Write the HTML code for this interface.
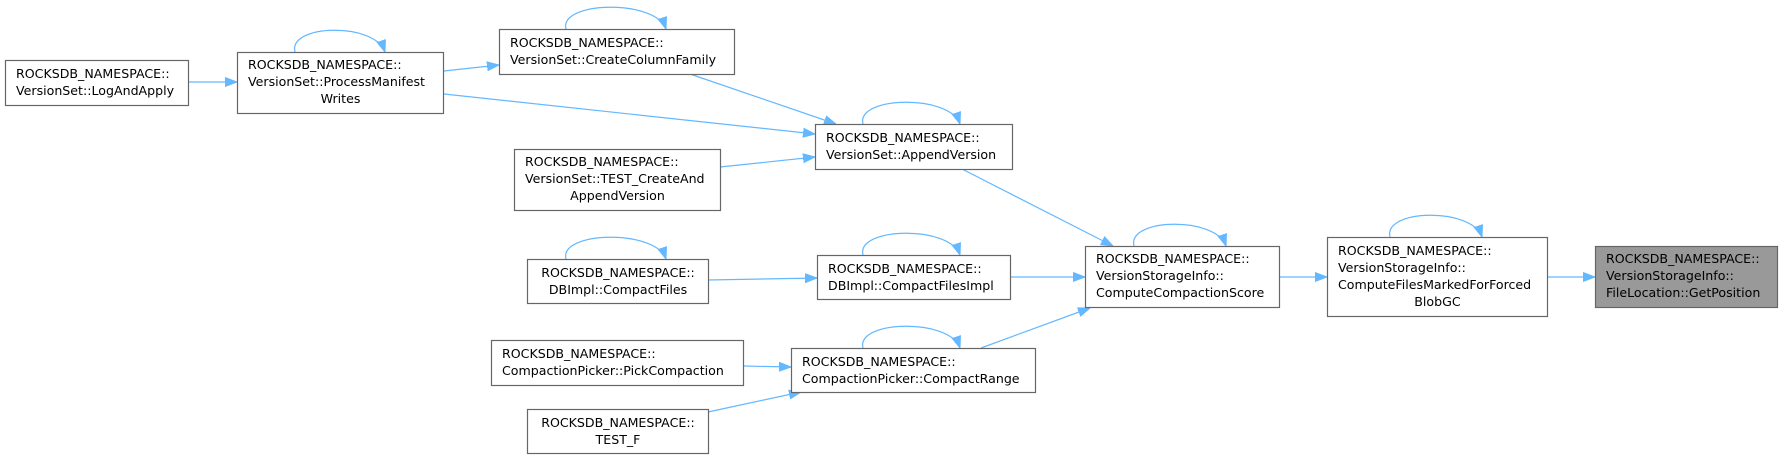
<!DOCTYPE html>
<html><head><meta charset="utf-8"><style>
html,body{margin:0;padding:0;background:#fff;}
svg{display:block;}
text{font-family:"DejaVu Sans","Liberation Sans",sans-serif;font-size:12.6px;fill:#000;}
.b{fill:#fff;stroke:#666;stroke-width:1.2;}
.e{fill:none;stroke:#63b8ff;stroke-width:1.2;marker-end:url(#a);}
</style></head><body>
<svg width="1782" height="459" viewBox="0 0 1782 459" xmlns="http://www.w3.org/2000/svg">
<defs><marker id="a" markerWidth="12" markerHeight="10" refX="12" refY="5" orient="auto" markerUnits="userSpaceOnUse"><path d="M0,0.5 L12,5 L0,9.5 Z" fill="#63b8ff" stroke="#63b8ff"/></marker></defs>

<!-- edges -->
<path class="e" d="M189,82 L237,82"/>
<path class="e" d="M444,71 L499,65"/>
<path class="e" d="M444,94 L815,134"/>
<path class="e" d="M690,74 L836,124"/>
<path class="e" d="M720,167 L815,157"/>
<path class="e" d="M708,280 L817,278"/>
<path class="e" d="M962,169 L1113,246"/>
<path class="e" d="M1010,277 L1085,277"/>
<path class="e" d="M981,348 L1090,308"/>
<path class="e" d="M743,366 L791,367"/>
<path class="e" d="M708,412 L801,392"/>
<path class="e" d="M1279,277 L1327,277"/>
<path class="e" d="M1547,277 L1595,277"/>

<!-- self loops -->
<path class="e" d="M295,52 C288,24 375,22 385,52"/>
<path class="e" d="M566,29 C559,1 656,-1 666,29"/>
<path class="e" d="M566,259 C559,231 656,229 666,259"/>
<path class="e" d="M863,124 C856,96 950,94 960,124"/>
<path class="e" d="M863,255 C856,227 950,225 960,255"/>
<path class="e" d="M863,348 C856,320 950,318 960,348"/>
<path class="e" d="M1134,246 C1127,218 1216,216 1226,246"/>
<path class="e" d="M1390,237 C1383,209 1472,207 1482,237"/>

<!-- nodes -->
<rect class="b" x="5.5" y="60.5" width="183" height="45"/>
<text x="16" y="78">ROCKSDB_NAMESPACE::</text>
<text x="16" y="95">VersionSet::LogAndApply</text>

<rect class="b" x="237.5" y="52.5" width="206" height="61"/>
<text x="248" y="69">ROCKSDB_NAMESPACE::</text>
<text x="248" y="86">VersionSet::ProcessManifest</text>
<text x="340.5" y="103" text-anchor="middle">Writes</text>

<rect class="b" x="499.5" y="29.5" width="235" height="45"/>
<text x="510" y="47">ROCKSDB_NAMESPACE::</text>
<text x="510" y="64">VersionSet::CreateColumnFamily</text>

<rect class="b" x="514.5" y="149.5" width="206" height="61"/>
<text x="525" y="166">ROCKSDB_NAMESPACE::</text>
<text x="525" y="183">VersionSet::TEST_CreateAnd</text>
<text x="617.5" y="200" text-anchor="middle">AppendVersion</text>

<rect class="b" x="527.5" y="259.5" width="181" height="44"/>
<text x="618" y="277" text-anchor="middle">ROCKSDB_NAMESPACE::</text>
<text x="618" y="294" text-anchor="middle">DBImpl::CompactFiles</text>

<rect class="b" x="491.5" y="340.5" width="252" height="45"/>
<text x="502" y="358">ROCKSDB_NAMESPACE::</text>
<text x="502" y="375">CompactionPicker::PickCompaction</text>

<rect class="b" x="527.5" y="409.5" width="181" height="44"/>
<text x="618" y="427" text-anchor="middle">ROCKSDB_NAMESPACE::</text>
<text x="618" y="444" text-anchor="middle">TEST_F</text>

<rect class="b" x="815.5" y="124.5" width="197" height="45"/>
<text x="826" y="142">ROCKSDB_NAMESPACE::</text>
<text x="826" y="159">VersionSet::AppendVersion</text>

<rect class="b" x="817.5" y="255.5" width="193" height="44"/>
<text x="828" y="273">ROCKSDB_NAMESPACE::</text>
<text x="828" y="290">DBImpl::CompactFilesImpl</text>

<rect class="b" x="791.5" y="348.5" width="244" height="44"/>
<text x="802" y="366">ROCKSDB_NAMESPACE::</text>
<text x="802" y="383">CompactionPicker::CompactRange</text>

<rect class="b" x="1085.5" y="246.5" width="194" height="61"/>
<text x="1096" y="263">ROCKSDB_NAMESPACE::</text>
<text x="1096" y="280">VersionStorageInfo::</text>
<text x="1096" y="297">ComputeCompactionScore</text>

<rect class="b" x="1327.5" y="237.5" width="220" height="79"/>
<text x="1338" y="255">ROCKSDB_NAMESPACE::</text>
<text x="1338" y="272">VersionStorageInfo::</text>
<text x="1338" y="289">ComputeFilesMarkedForForced</text>
<text x="1437.5" y="306" text-anchor="middle">BlobGC</text>

<rect x="1595.5" y="246.5" width="182" height="61" fill="#999" stroke="#666" stroke-width="1.2"/>
<text x="1606" y="263">ROCKSDB_NAMESPACE::</text>
<text x="1606" y="280">VersionStorageInfo::</text>
<text x="1606" y="297">FileLocation::GetPosition</text>
</svg>
</body></html>
